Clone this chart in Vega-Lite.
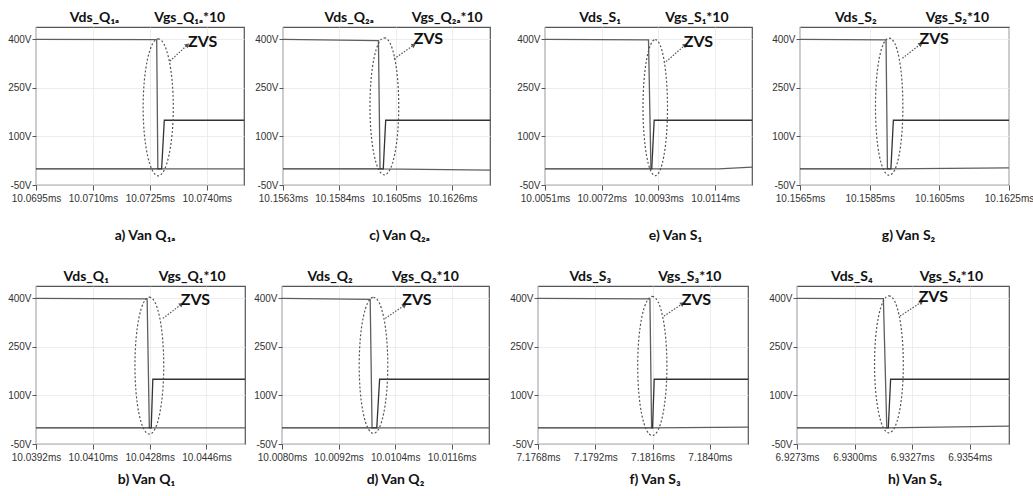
{
  "$schema": "https://vega.github.io/schema/vega-lite/v6.json",
  "padding": {"left": 7, "top": 10, "right": 0, "bottom": 0},
  "background": "white",
  "config": {
    "view": {"stroke": "#555555", "strokeWidth": 1.2},
    "axis": {"domain": false, "grid": true, "gridColor": "#e8e8e8", "gridWidth": 0.8, "tickColor": "#555555", "labelFont": "Liberation Sans", "labelFontSize": 10, "labelColor": "#333333", "labelFlush": false, "labelOverlap": false, "title": null},
    "axisX": {"tickSize": 5, "labelPadding": 3},
    "axisY": {"tickSize": 4, "labelPadding": 1},
    "title": {"orient": "bottom", "font": "Lato, DejaVu Sans", "fontSize": 14, "fontWeight": "bold", "color": "#111111"}
  },
  "datasets": {
    "pa": [
      {"k":"vds","t":10.0695,"v":400},{"k":"vds","t":10.07261,"v":399},{"k":"vds","t":10.07268,"v":398},{"k":"vds","t":10.07271,"v":0},{"k":"vds","t":10.07498,"v":0},
      {"k":"vgs","t":10.0695,"v":0},{"k":"vgs","t":10.07281,"v":0},{"k":"vgs","t":10.07288,"v":150},{"k":"vgs","t":10.07498,"v":150},
      {"k":"ell","t":10.07272,"v":190},
      {"k":"arr","t":10.07303,"v":333},{"k":"arr","t":10.07349,"v":382.6},
      {"k":"head","t":10.07349,"v":382.6},
      {"k":"zvs","t":10.07389,"v":391,"txt":"ZVS"},
      {"k":"lab","t":10.07104,"v":438,"txt":"Vds_Q₁ₐ"},{"k":"lab","t":10.07355,"v":438,"txt":"Vgs_Q₁ₐ*10"}
    ],
    "pc": [
      {"k":"vds","t":10.1563,"v":400},{"k":"vds","t":10.15985,"v":396},{"k":"vds","t":10.15991,"v":0},{"k":"vds","t":10.164,"v":-4},
      {"k":"vgs","t":10.1563,"v":0},{"k":"vgs","t":10.16003,"v":0},{"k":"vgs","t":10.16012,"v":150},{"k":"vgs","t":10.164,"v":150},
      {"k":"ell","t":10.16007,"v":193},
      {"k":"arr","t":10.16043,"v":339.5},{"k":"arr","t":10.16117,"v":382.6},
      {"k":"head","t":10.16117,"v":382.6},
      {"k":"zvs","t":10.16171,"v":401,"txt":"ZVS"},
      {"k":"lab","t":10.15876,"v":438,"txt":"Vds_Q₂ₐ"},{"k":"lab","t":10.16241,"v":438,"txt":"Vgs_Q₂ₐ*10"}
    ],
    "pe": [
      {"k":"vds","t":10.0051,"v":400},{"k":"vds","t":10.00893,"v":398},{"k":"vds","t":10.00902,"v":0},{"k":"vds","t":10.01152,"v":0},{"k":"vds","t":10.01276,"v":5},
      {"k":"vgs","t":10.0051,"v":0},{"k":"vgs","t":10.00905,"v":0},{"k":"vgs","t":10.00914,"v":150},{"k":"vgs","t":10.01276,"v":150},
      {"k":"ell","t":10.00918,"v":189},
      {"k":"arr","t":10.00958,"v":331},{"k":"arr","t":10.01029,"v":382.6},
      {"k":"head","t":10.01029,"v":382.6},
      {"k":"zvs","t":10.01078,"v":393,"txt":"ZVS"},
      {"k":"lab","t":10.00714,"v":438,"txt":"Vds_S₁"},{"k":"lab","t":10.01072,"v":438,"txt":"Vgs_S₁*10"}
    ],
    "pg": [
      {"k":"vds","t":10.1565,"v":400},{"k":"vds","t":10.15897,"v":398},{"k":"vds","t":10.15901,"v":0},{"k":"vds","t":10.1625,"v":3},
      {"k":"vgs","t":10.1565,"v":0},{"k":"vgs","t":10.15911,"v":0},{"k":"vgs","t":10.15918,"v":150},{"k":"vgs","t":10.1625,"v":150},
      {"k":"ell","t":10.15906,"v":192},
      {"k":"arr","t":10.15944,"v":341.6},{"k":"arr","t":10.15997,"v":385.6},
      {"k":"head","t":10.15997,"v":385.6},
      {"k":"zvs","t":10.16035,"v":401,"txt":"ZVS"},
      {"k":"lab","t":10.1581,"v":438,"txt":"Vds_S₂"},{"k":"lab","t":10.16102,"v":438,"txt":"Vgs_S₂*10"}
    ],
    "pb": [
      {"k":"vds","t":10.0392,"v":400},{"k":"vds","t":10.04272,"v":398},{"k":"vds","t":10.04279,"v":0},{"k":"vds","t":10.04582,"v":0},
      {"k":"vgs","t":10.0392,"v":0},{"k":"vgs","t":10.04285,"v":0},{"k":"vgs","t":10.0429,"v":150},{"k":"vgs","t":10.04582,"v":150},
      {"k":"ell","t":10.04279,"v":192},
      {"k":"arr","t":10.04322,"v":338},{"k":"arr","t":10.04381,"v":381.7},
      {"k":"head","t":10.04381,"v":381.7},
      {"k":"zvs","t":10.04425,"v":396,"txt":"ZVS"},
      {"k":"lab","t":10.04079,"v":438,"txt":"Vds_Q₁"},{"k":"lab","t":10.04415,"v":438,"txt":"Vgs_Q₁*10"}
    ],
    "pd": [
      {"k":"vds","t":10.008,"v":400},{"k":"vds","t":10.00987,"v":397},{"k":"vds","t":10.00991,"v":0},{"k":"vds","t":10.01239,"v":0},
      {"k":"vgs","t":10.008,"v":0},{"k":"vgs","t":10.01001,"v":0},{"k":"vgs","t":10.01007,"v":150},{"k":"vgs","t":10.01239,"v":150},
      {"k":"ell","t":10.00994,"v":193},
      {"k":"arr","t":10.01019,"v":338},{"k":"arr","t":10.0106,"v":378.7},
      {"k":"head","t":10.0106,"v":378.7},
      {"k":"zvs","t":10.01086,"v":394,"txt":"ZVS"},
      {"k":"lab","t":10.00902,"v":438,"txt":"Vds_Q₂"},{"k":"lab","t":10.01104,"v":438,"txt":"Vgs_Q₂*10"}
    ],
    "pf": [
      {"k":"vds","t":7.1768,"v":400},{"k":"vds","t":7.18149,"v":398},{"k":"vds","t":7.18156,"v":0},{"k":"vds","t":7.1856,"v":2},
      {"k":"vgs","t":7.1768,"v":0},{"k":"vgs","t":7.1816,"v":0},{"k":"vgs","t":7.18167,"v":150},{"k":"vgs","t":7.1856,"v":150},
      {"k":"ell","t":7.18159,"v":191},
      {"k":"arr","t":7.18208,"v":345},{"k":"arr","t":7.18286,"v":383.8},
      {"k":"head","t":7.18286,"v":383.8},
      {"k":"zvs","t":7.18344,"v":394,"txt":"ZVS"},
      {"k":"lab","t":7.17899,"v":438,"txt":"Vds_S₃"},{"k":"lab","t":7.18316,"v":438,"txt":"Vgs_S₃*10"}
    ],
    "ph": [
      {"k":"vds","t":6.9273,"v":400},{"k":"vds","t":6.93135,"v":399},{"k":"vds","t":6.93151,"v":0},{"k":"vds","t":6.93724,"v":5},
      {"k":"vgs","t":6.9273,"v":0},{"k":"vgs","t":6.93158,"v":0},{"k":"vgs","t":6.93169,"v":150},{"k":"vgs","t":6.93724,"v":150},
      {"k":"ell","t":6.93161,"v":196},
      {"k":"arr","t":6.93213,"v":345},{"k":"arr","t":6.93314,"v":388.5},
      {"k":"head","t":6.93314,"v":388.5},
      {"k":"zvs","t":6.93369,"v":404,"txt":"ZVS"},
      {"k":"lab","t":6.92987,"v":438,"txt":"Vds_S₄"},{"k":"lab","t":6.93454,"v":438,"txt":"Vgs_S₄*10"}
    ]
  },
  "vconcat": [
    {
      "spacing": 22,
      "hconcat": [
        {
          "spacing": 6,
          "hconcat": [
            {
              "width": 208, "height": 158,
              "data": {"name": "pa"},
              "title": {"text": "a) Van Q₁ₐ", "offset": 26, "dx": 5},
              "encoding": {
                "x": {"field": "t", "type": "quantitative", "scale": {"domain": [10.0695, 10.07498], "nice": false, "zero": false}, "axis": {"values": [10.0695, 10.071, 10.0725, 10.074], "labelExpr": "format(datum.value, '.4f') + 'ms'"}},
                "y": {"field": "v", "type": "quantitative", "scale": {"domain": [-50, 438], "nice": false}, "axis": {"values": [-50, 100, 250, 400], "labelExpr": "datum.value + 'V'"}}
              },
              "layer": [
                {"transform": [{"filter": "datum.k=='vds'||datum.k=='vgs'"}], "mark": {"type": "line", "strokeWidth": 1.3}, "encoding": {"color": {"field": "k", "type": "nominal", "scale": {"domain": ["vds", "vgs"], "range": ["#5e5e5e", "#333333"]}, "legend": null}}},
                {"transform": [{"filter": "datum.k=='ell'"}], "mark": {"type": "point", "shape": "M0,-1C0.12,-1,0.22,-0.552,0.22,0C0.22,0.552,0.12,1,0,1C-0.12,1,-0.22,0.552,-0.22,0C-0.22,-0.552,-0.12,-1,0,-1Z", "size": 18769, "filled": false, "color": "#555555", "strokeWidth": 1.2, "strokeDash": [2, 2], "opacity": 1}},
                {"transform": [{"filter": "datum.k=='arr'"}], "mark": {"type": "line", "color": "#555555", "strokeWidth": 1.2, "strokeDash": [1.5, 1.5]}},
                {"transform": [{"filter": "datum.k=='head'"}], "mark": {"type": "point", "shape": "triangle-up", "size": 26, "filled": true, "color": "#555555", "opacity": 1, "angle": 48}},
                {"transform": [{"filter": "datum.k=='zvs'"}], "mark": {"type": "text", "font": "Lato, DejaVu Sans", "fontSize": 16, "fontWeight": "bold", "color": "#111111"}, "encoding": {"text": {"field": "txt"}}},
                {"transform": [{"filter": "datum.k=='lab'"}], "mark": {"type": "text", "font": "Lato, DejaVu Sans", "fontSize": 14, "fontWeight": "bold", "color": "#111111", "dy": -9, "baseline": "middle"}, "encoding": {"text": {"field": "txt"}}}
              ]
            },
            {
              "width": 207, "height": 158,
              "data": {"name": "pc"},
              "title": {"text": "c) Van Q₂ₐ", "offset": 26, "dx": 13},
              "encoding": {
                "x": {"field": "t", "type": "quantitative", "scale": {"domain": [10.1563, 10.164], "nice": false, "zero": false}, "axis": {"values": [10.1563, 10.1584, 10.1605, 10.1626], "labelExpr": "format(datum.value, '.4f') + 'ms'"}},
                "y": {"field": "v", "type": "quantitative", "scale": {"domain": [-50, 438], "nice": false}, "axis": {"values": [-50, 100, 250, 400], "labelExpr": "datum.value + 'V'"}}
              },
              "layer": [
                {"transform": [{"filter": "datum.k=='vds'||datum.k=='vgs'"}], "mark": {"type": "line", "strokeWidth": 1.3}, "encoding": {"color": {"field": "k", "type": "nominal", "scale": {"domain": ["vds", "vgs"], "range": ["#5e5e5e", "#333333"]}, "legend": null}}},
                {"transform": [{"filter": "datum.k=='ell'"}], "mark": {"type": "point", "shape": "M0,-1C0.12,-1,0.21,-0.552,0.21,0C0.21,0.552,0.12,1,0,1C-0.12,1,-0.21,0.552,-0.21,0C-0.21,-0.552,-0.12,-1,0,-1Z", "size": 18769, "filled": false, "color": "#555555", "strokeWidth": 1.2, "strokeDash": [2, 2], "opacity": 1}},
                {"transform": [{"filter": "datum.k=='arr'"}], "mark": {"type": "line", "color": "#555555", "strokeWidth": 1.2, "strokeDash": [1.5, 1.5]}},
                {"transform": [{"filter": "datum.k=='head'"}], "mark": {"type": "point", "shape": "triangle-up", "size": 26, "filled": true, "color": "#555555", "opacity": 1, "angle": 55}},
                {"transform": [{"filter": "datum.k=='zvs'"}], "mark": {"type": "text", "font": "Lato, DejaVu Sans", "fontSize": 16, "fontWeight": "bold", "color": "#111111"}, "encoding": {"text": {"field": "txt"}}},
                {"transform": [{"filter": "datum.k=='lab'"}], "mark": {"type": "text", "font": "Lato, DejaVu Sans", "fontSize": 14, "fontWeight": "bold", "color": "#111111", "dy": -9, "baseline": "middle"}, "encoding": {"text": {"field": "txt"}}}
              ]
            }
          ]
        },
        {
          "spacing": 15,
          "hconcat": [
            {
              "width": 207, "height": 158,
              "data": {"name": "pe"},
              "title": {"text": "e) Van S₁", "offset": 26, "dx": 27},
              "encoding": {
                "x": {"field": "t", "type": "quantitative", "scale": {"domain": [10.0051, 10.01276], "nice": false, "zero": false}, "axis": {"values": [10.0051, 10.0072, 10.0093, 10.0114], "labelExpr": "format(datum.value, '.4f') + 'ms'"}},
                "y": {"field": "v", "type": "quantitative", "scale": {"domain": [-50, 438], "nice": false}, "axis": {"values": [-50, 100, 250, 400], "labelExpr": "datum.value + 'V'"}}
              },
              "layer": [
                {"transform": [{"filter": "datum.k=='vds'||datum.k=='vgs'"}], "mark": {"type": "line", "strokeWidth": 1.3}, "encoding": {"color": {"field": "k", "type": "nominal", "scale": {"domain": ["vds", "vgs"], "range": ["#5e5e5e", "#333333"]}, "legend": null}}},
                {"transform": [{"filter": "datum.k=='ell'"}], "mark": {"type": "point", "shape": "M0,-1C0.1,-1,0.18,-0.552,0.18,0C0.18,0.552,0.1,1,0,1C-0.1,1,-0.18,0.552,-0.18,0C-0.18,-0.552,-0.1,-1,0,-1Z", "size": 18496, "filled": false, "color": "#555555", "strokeWidth": 1.2, "strokeDash": [2, 2], "opacity": 1}},
                {"transform": [{"filter": "datum.k=='arr'"}], "mark": {"type": "line", "color": "#555555", "strokeWidth": 1.2, "strokeDash": [1.5, 1.5]}},
                {"transform": [{"filter": "datum.k=='head'"}], "mark": {"type": "point", "shape": "triangle-up", "size": 26, "filled": true, "color": "#555555", "opacity": 1, "angle": 49}},
                {"transform": [{"filter": "datum.k=='zvs'"}], "mark": {"type": "text", "font": "Lato, DejaVu Sans", "fontSize": 16, "fontWeight": "bold", "color": "#111111"}, "encoding": {"text": {"field": "txt"}}},
                {"transform": [{"filter": "datum.k=='lab'"}], "mark": {"type": "text", "font": "Lato, DejaVu Sans", "fontSize": 14, "fontWeight": "bold", "color": "#111111", "dy": -9, "baseline": "middle"}, "encoding": {"text": {"field": "txt"}}}
              ]
            },
            {
              "width": 209, "height": 158,
              "data": {"name": "pg"},
              "title": {"text": "g) Van S₂", "offset": 26, "dx": 4},
              "encoding": {
                "x": {"field": "t", "type": "quantitative", "scale": {"domain": [10.1565, 10.1625], "nice": false, "zero": false}, "axis": {"values": [10.1565, 10.1585, 10.1605, 10.1625], "labelExpr": "format(datum.value, '.4f') + 'ms'"}},
                "y": {"field": "v", "type": "quantitative", "scale": {"domain": [-50, 438], "nice": false}, "axis": {"values": [-50, 100, 250, 400], "labelExpr": "datum.value + 'V'"}}
              },
              "layer": [
                {"transform": [{"filter": "datum.k=='vds'||datum.k=='vgs'"}], "mark": {"type": "line", "strokeWidth": 1.3}, "encoding": {"color": {"field": "k", "type": "nominal", "scale": {"domain": ["vds", "vgs"], "range": ["#5e5e5e", "#333333"]}, "legend": null}}},
                {"transform": [{"filter": "datum.k=='ell'"}], "mark": {"type": "point", "shape": "M0,-1C0.12,-1,0.2,-0.552,0.2,0C0.2,0.552,0.12,1,0,1C-0.12,1,-0.2,0.552,-0.2,0C-0.2,-0.552,-0.12,-1,0,-1Z", "size": 18769, "filled": false, "color": "#555555", "strokeWidth": 1.2, "strokeDash": [2, 2], "opacity": 1}},
                {"transform": [{"filter": "datum.k=='arr'"}], "mark": {"type": "line", "color": "#555555", "strokeWidth": 1.2, "strokeDash": [1.5, 1.5]}},
                {"transform": [{"filter": "datum.k=='head'"}], "mark": {"type": "point", "shape": "triangle-up", "size": 26, "filled": true, "color": "#555555", "opacity": 1, "angle": 52}},
                {"transform": [{"filter": "datum.k=='zvs'"}], "mark": {"type": "text", "font": "Lato, DejaVu Sans", "fontSize": 16, "fontWeight": "bold", "color": "#111111"}, "encoding": {"text": {"field": "txt"}}},
                {"transform": [{"filter": "datum.k=='lab'"}], "mark": {"type": "text", "font": "Lato, DejaVu Sans", "fontSize": 14, "fontWeight": "bold", "color": "#111111", "dy": -9, "baseline": "middle"}, "encoding": {"text": {"field": "txt"}}}
              ]
            }
          ]
        }
      ]
    },
    {
      "spacing": 16,
      "hconcat": [
        {
          "spacing": 4,
          "hconcat": [
            {
              "width": 209, "height": 158,
              "data": {"name": "pb"},
              "title": {"text": "b) Van Q₁", "offset": 11, "dx": 6},
              "encoding": {
                "x": {"field": "t", "type": "quantitative", "scale": {"domain": [10.0392, 10.04582], "nice": false, "zero": false}, "axis": {"values": [10.0392, 10.041, 10.0428, 10.0446], "labelExpr": "format(datum.value, '.4f') + 'ms'"}},
                "y": {"field": "v", "type": "quantitative", "scale": {"domain": [-50, 438], "nice": false}, "axis": {"values": [-50, 100, 250, 400], "labelExpr": "datum.value + 'V'"}}
              },
              "layer": [
                {"transform": [{"filter": "datum.k=='vds'||datum.k=='vgs'"}], "mark": {"type": "line", "strokeWidth": 1.3}, "encoding": {"color": {"field": "k", "type": "nominal", "scale": {"domain": ["vds", "vgs"], "range": ["#5e5e5e", "#333333"]}, "legend": null}}},
                {"transform": [{"filter": "datum.k=='ell'"}], "mark": {"type": "point", "shape": "M0,-1C0.12,-1,0.21,-0.552,0.21,0C0.21,0.552,0.12,1,0,1C-0.12,1,-0.21,0.552,-0.21,0C-0.21,-0.552,-0.12,-1,0,-1Z", "size": 18769, "filled": false, "color": "#555555", "strokeWidth": 1.2, "strokeDash": [2, 2], "opacity": 1}},
                {"transform": [{"filter": "datum.k=='arr'"}], "mark": {"type": "line", "color": "#555555", "strokeWidth": 1.2, "strokeDash": [1.5, 1.5]}},
                {"transform": [{"filter": "datum.k=='head'"}], "mark": {"type": "point", "shape": "triangle-up", "size": 26, "filled": true, "color": "#555555", "opacity": 1, "angle": 53}},
                {"transform": [{"filter": "datum.k=='zvs'"}], "mark": {"type": "text", "font": "Lato, DejaVu Sans", "fontSize": 16, "fontWeight": "bold", "color": "#111111"}, "encoding": {"text": {"field": "txt"}}},
                {"transform": [{"filter": "datum.k=='lab'"}], "mark": {"type": "text", "font": "Lato, DejaVu Sans", "fontSize": 14, "fontWeight": "bold", "color": "#111111", "dy": -9, "baseline": "middle"}, "encoding": {"text": {"field": "txt"}}}
              ]
            },
            {
              "width": 207, "height": 158,
              "data": {"name": "pd"},
              "title": {"text": "d) Van Q₂", "offset": 11, "dx": 10},
              "encoding": {
                "x": {"field": "t", "type": "quantitative", "scale": {"domain": [10.008, 10.01239], "nice": false, "zero": false}, "axis": {"values": [10.008, 10.0092, 10.0104, 10.0116], "labelExpr": "format(datum.value, '.4f') + 'ms'"}},
                "y": {"field": "v", "type": "quantitative", "scale": {"domain": [-50, 438], "nice": false}, "axis": {"values": [-50, 100, 250, 400], "labelExpr": "datum.value + 'V'"}}
              },
              "layer": [
                {"transform": [{"filter": "datum.k=='vds'||datum.k=='vgs'"}], "mark": {"type": "line", "strokeWidth": 1.3}, "encoding": {"color": {"field": "k", "type": "nominal", "scale": {"domain": ["vds", "vgs"], "range": ["#5e5e5e", "#333333"]}, "legend": null}}},
                {"transform": [{"filter": "datum.k=='ell'"}], "mark": {"type": "point", "shape": "M0,-1C0.12,-1,0.21,-0.552,0.21,0C0.21,0.552,0.12,1,0,1C-0.12,1,-0.21,0.552,-0.21,0C-0.21,-0.552,-0.12,-1,0,-1Z", "size": 18496, "filled": false, "color": "#555555", "strokeWidth": 1.2, "strokeDash": [2, 2], "opacity": 1}},
                {"transform": [{"filter": "datum.k=='arr'"}], "mark": {"type": "line", "color": "#555555", "strokeWidth": 1.2, "strokeDash": [1.5, 1.5]}},
                {"transform": [{"filter": "datum.k=='head'"}], "mark": {"type": "point", "shape": "triangle-up", "size": 26, "filled": true, "color": "#555555", "opacity": 1, "angle": 55}},
                {"transform": [{"filter": "datum.k=='zvs'"}], "mark": {"type": "text", "font": "Lato, DejaVu Sans", "fontSize": 16, "fontWeight": "bold", "color": "#111111"}, "encoding": {"text": {"field": "txt"}}},
                {"transform": [{"filter": "datum.k=='lab'"}], "mark": {"type": "text", "font": "Lato, DejaVu Sans", "fontSize": 14, "fontWeight": "bold", "color": "#111111", "dy": -9, "baseline": "middle"}, "encoding": {"text": {"field": "txt"}}}
              ]
            }
          ]
        },
        {
          "spacing": 16,
          "hconcat": [
            {
              "width": 210, "height": 158,
              "data": {"name": "pf"},
              "title": {"text": "f) Van S₃", "offset": 11, "dx": 12},
              "encoding": {
                "x": {"field": "t", "type": "quantitative", "scale": {"domain": [7.1768, 7.1856], "nice": false, "zero": false}, "axis": {"values": [7.1768, 7.1792, 7.1816, 7.184], "labelExpr": "format(datum.value, '.4f') + 'ms'"}},
                "y": {"field": "v", "type": "quantitative", "scale": {"domain": [-50, 438], "nice": false}, "axis": {"values": [-50, 100, 250, 400], "labelExpr": "datum.value + 'V'"}}
              },
              "layer": [
                {"transform": [{"filter": "datum.k=='vds'||datum.k=='vgs'"}], "mark": {"type": "line", "strokeWidth": 1.3}, "encoding": {"color": {"field": "k", "type": "nominal", "scale": {"domain": ["vds", "vgs"], "range": ["#5e5e5e", "#333333"]}, "legend": null}}},
                {"transform": [{"filter": "datum.k=='ell'"}], "mark": {"type": "point", "shape": "M0,-1C0.12,-1,0.21,-0.552,0.21,0C0.21,0.552,0.12,1,0,1C-0.12,1,-0.21,0.552,-0.21,0C-0.21,-0.552,-0.12,-1,0,-1Z", "size": 19321, "filled": false, "color": "#555555", "strokeWidth": 1.2, "strokeDash": [2, 2], "opacity": 1}},
                {"transform": [{"filter": "datum.k=='arr'"}], "mark": {"type": "line", "color": "#555555", "strokeWidth": 1.2, "strokeDash": [1.5, 1.5]}},
                {"transform": [{"filter": "datum.k=='head'"}], "mark": {"type": "point", "shape": "triangle-up", "size": 26, "filled": true, "color": "#555555", "opacity": 1, "angle": 55}},
                {"transform": [{"filter": "datum.k=='zvs'"}], "mark": {"type": "text", "font": "Lato, DejaVu Sans", "fontSize": 16, "fontWeight": "bold", "color": "#111111"}, "encoding": {"text": {"field": "txt"}}},
                {"transform": [{"filter": "datum.k=='lab'"}], "mark": {"type": "text", "font": "Lato, DejaVu Sans", "fontSize": 14, "fontWeight": "bold", "color": "#111111", "dy": -9, "baseline": "middle"}, "encoding": {"text": {"field": "txt"}}}
              ]
            },
            {
              "width": 212, "height": 158,
              "data": {"name": "ph"},
              "title": {"text": "h) Van S₄", "offset": 11, "dx": 12},
              "encoding": {
                "x": {"field": "t", "type": "quantitative", "scale": {"domain": [6.9273, 6.93724], "nice": false, "zero": false}, "axis": {"values": [6.9273, 6.93, 6.9327, 6.9354], "labelExpr": "format(datum.value, '.4f') + 'ms'"}},
                "y": {"field": "v", "type": "quantitative", "scale": {"domain": [-50, 438], "nice": false}, "axis": {"values": [-50, 100, 250, 400], "labelExpr": "datum.value + 'V'"}}
              },
              "layer": [
                {"transform": [{"filter": "datum.k=='vds'||datum.k=='vgs'"}], "mark": {"type": "line", "strokeWidth": 1.3}, "encoding": {"color": {"field": "k", "type": "nominal", "scale": {"domain": ["vds", "vgs"], "range": ["#5e5e5e", "#333333"]}, "legend": null}}},
                {"transform": [{"filter": "datum.k=='ell'"}], "mark": {"type": "point", "shape": "M0,-1C0.12,-1,0.21,-0.552,0.21,0C0.21,0.552,0.12,1,0,1C-0.12,1,-0.21,0.552,-0.21,0C-0.21,-0.552,-0.12,-1,0,-1Z", "size": 18769, "filled": false, "color": "#555555", "strokeWidth": 1.2, "strokeDash": [2, 2], "opacity": 1}},
                {"transform": [{"filter": "datum.k=='arr'"}], "mark": {"type": "line", "color": "#555555", "strokeWidth": 1.2, "strokeDash": [1.5, 1.5]}},
                {"transform": [{"filter": "datum.k=='head'"}], "mark": {"type": "point", "shape": "triangle-up", "size": 26, "filled": true, "color": "#555555", "opacity": 1, "angle": 57}},
                {"transform": [{"filter": "datum.k=='zvs'"}], "mark": {"type": "text", "font": "Lato, DejaVu Sans", "fontSize": 16, "fontWeight": "bold", "color": "#111111"}, "encoding": {"text": {"field": "txt"}}},
                {"transform": [{"filter": "datum.k=='lab'"}], "mark": {"type": "text", "font": "Lato, DejaVu Sans", "fontSize": 14, "fontWeight": "bold", "color": "#111111", "dy": -9, "baseline": "middle"}, "encoding": {"text": {"field": "txt"}}}
              ]
            }
          ]
        }
      ]
    }
  ],
  "spacing": 25
}
